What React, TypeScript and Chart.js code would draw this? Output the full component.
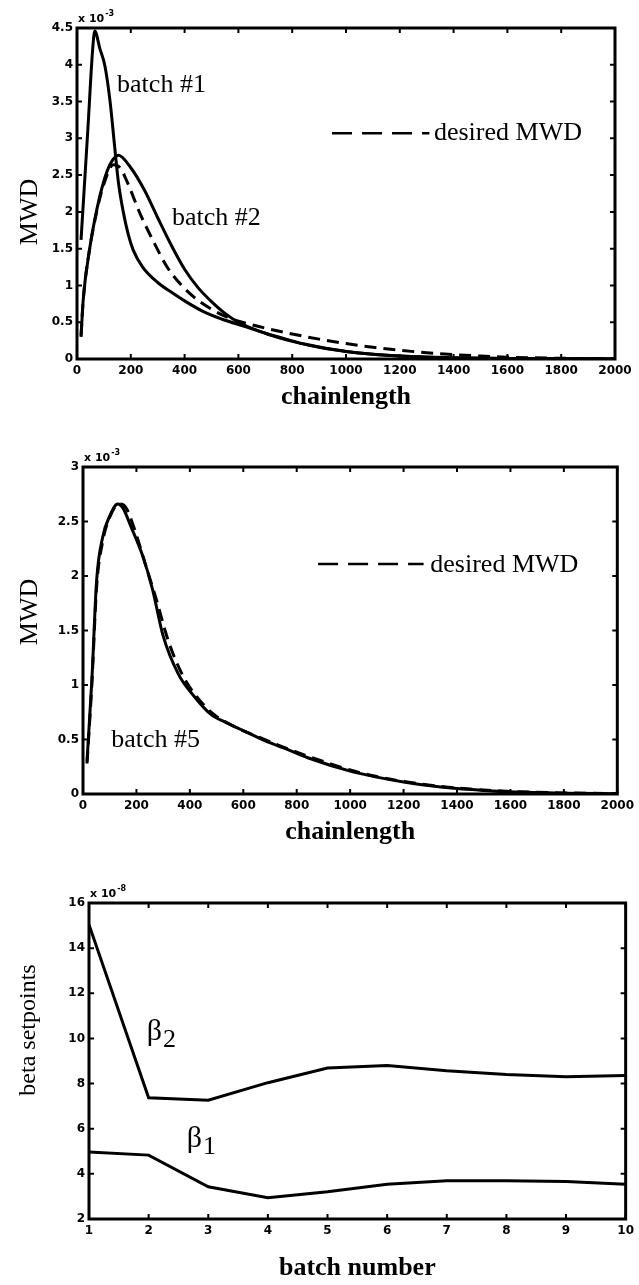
import React, { useEffect, useRef } from 'react';
import { Chart, registerables } from 'chart.js';

Chart.register(...registerables);

// ---------- tick values ----------
const chainTicks = [0, 200, 400, 600, 800, 1000, 1200, 1400, 1600, 1800, 2000];
const mwd1Ticks = [0, 0.5, 1, 1.5, 2, 2.5, 3, 3.5, 4, 4.5];
const mwd2Ticks = [0, 0.5, 1, 1.5, 2, 2.5, 3];
const batchTicks = [1, 2, 3, 4, 5, 6, 7, 8, 9, 10];
const betaTicks = [2, 4, 6, 8, 10, 12, 14, 16];

// ---------- chart 1 (x 10^-3) ----------
const batch1X = [15, 40, 58, 66, 85, 104, 123, 141, 154, 172, 190, 209, 244, 300, 350, 400, 472, 540, 625, 700, 777, 850, 1007, 1100, 1200, 1300, 1400, 1600, 1800, 2000];
const batch1Y = [1.62, 3.1, 4.2, 4.46, 4.22, 3.98, 3.5, 2.85, 2.4, 2.0, 1.7, 1.48, 1.25, 1.04, 0.91, 0.79, 0.64, 0.54, 0.44, 0.35, 0.27, 0.2, 0.1, 0.065, 0.04, 0.025, 0.015, 0.006, 0.003, 0.001];
const batch2X = [15, 23, 45, 73, 100, 125, 154, 200, 250, 300, 350, 400, 450, 500, 550, 600, 700, 800, 900, 1007, 1100, 1200, 1300, 1400, 1600, 1800, 2000];
const batch2Y = [0.3, 0.8, 1.45, 2.02, 2.42, 2.66, 2.77, 2.6, 2.3, 1.92, 1.55, 1.22, 0.97, 0.78, 0.62, 0.5, 0.35, 0.24, 0.16, 0.1, 0.065, 0.042, 0.027, 0.017, 0.007, 0.003, 0.001];
const desired1X = [15, 23, 45, 73, 100, 135, 160, 184, 234, 284, 335, 389, 442, 503, 564, 625, 700, 800, 900, 1000, 1100, 1200, 1300, 1400, 1500, 1600, 1800, 2000];
const desired1Y = [0.32, 0.8, 1.45, 2.0, 2.38, 2.64, 2.6, 2.43, 1.98, 1.6, 1.25, 1.0, 0.82, 0.67, 0.56, 0.49, 0.42, 0.34, 0.27, 0.21, 0.16, 0.12, 0.085, 0.06, 0.04, 0.025, 0.01, 0.004];

// ---------- chart 2 (x 10^-3) ----------
const batch5X = [15, 33, 51, 74, 100, 130, 150, 180, 224, 260, 300, 357, 418, 479, 540, 601, 680, 753, 844, 1000, 1100, 1200, 1300, 1400, 1500, 1600, 1800, 2000];
const batch5Y = [0.3, 1.04, 1.96, 2.36, 2.55, 2.66, 2.62, 2.45, 2.18, 1.88, 1.45, 1.1, 0.89, 0.73, 0.65, 0.58, 0.49, 0.42, 0.33, 0.21, 0.155, 0.11, 0.075, 0.05, 0.033, 0.02, 0.008, 0.003];
const desired2X = [15, 33, 51, 74, 100, 135, 160, 190, 237, 275, 320, 375, 430, 490, 550, 610, 690, 760, 850, 1000, 1100, 1200, 1300, 1400, 1500, 1600, 1800, 2000];
const desired2Y = [0.28, 1.0, 1.9, 2.32, 2.54, 2.66, 2.63, 2.45, 2.08, 1.78, 1.4, 1.08, 0.88, 0.73, 0.64, 0.57, 0.49, 0.42, 0.34, 0.22, 0.16, 0.115, 0.08, 0.055, 0.037, 0.024, 0.01, 0.004];

// ---------- chart 3 ----------
const batchNumbers = [1, 2, 3, 4, 5, 6, 7, 8, 9, 10];
const beta2 = [15.04, 7.37, 7.26, 8.04, 8.69, 8.8, 8.57, 8.4, 8.3, 8.36];
const beta1 = [4.97, 4.83, 3.43, 2.94, 3.21, 3.54, 3.69, 3.69, 3.66, 3.54];

const SERIF = "'Liberation Serif', 'Times New Roman', serif";
const SANS = "'DejaVu Sans', sans-serif";
const W = 639;

const toPts = (xs: number[], ys: number[]) => xs.map((x, i) => ({ x, y: ys[i] }));

type Note = { text: string; sub?: string; x: number; y: number; size?: number };
type Spec = {
  key: string;
  top: number;
  height: number;
  area: { left: number; top: number; right: number; bottom: number };
  xMin: number; xMax: number; yMin: number; yMax: number;
  xTicks: number[]; yTicks: number[];
  xTitle: string; xTitlePad: number;
  yTitle: string; yTitleX: number; yTitleY: number; yTitleSize: number;
  exp: string;
  smooth: boolean;
  series: { x: number[]; y: number[]; dash?: number[] }[];
  notes: Note[];
  legend?: { x1: number; x2: number; y: number; tx: number; ty: number; text: string };
};

function makeFrame(p: Spec) {
  return {
    id: 'frame_' + p.key,
    afterDraw(chart: any) {
      const { ctx, chartArea: a, scales } = chart;
      const xs = scales.x, ys = scales.y;
      ctx.save();
      ctx.strokeStyle = '#000';
      ctx.fillStyle = '#000';
      ctx.setLineDash([]);
      ctx.lineWidth = 2;
      ctx.beginPath();
      p.xTicks.forEach((v) => {
        const px = xs.getPixelForValue(v);
        ctx.moveTo(px, a.bottom); ctx.lineTo(px, a.bottom - 5);
        ctx.moveTo(px, a.top); ctx.lineTo(px, a.top + 5);
      });
      p.yTicks.forEach((v) => {
        const py = ys.getPixelForValue(v);
        ctx.moveTo(a.left, py); ctx.lineTo(a.left + 5, py);
        ctx.moveTo(a.right, py); ctx.lineTo(a.right - 5, py);
      });
      ctx.stroke();
      ctx.lineWidth = 3;
      ctx.strokeRect(a.left, a.top, a.right - a.left, a.bottom - a.top);

      // exponent
      ctx.textAlign = 'left';
      ctx.textBaseline = 'alphabetic';
      ctx.font = `bold 11px ${SANS}`;
      ctx.fillText('x 10', a.left + 1, a.top - 6);
      const ew = ctx.measureText('x 10').width;
      ctx.font = `bold 8px ${SANS}`;
      ctx.fillText(p.exp, a.left + 2 + ew, a.top - 12);

      // y title
      ctx.save();
      ctx.translate(p.yTitleX, p.yTitleY);
      ctx.rotate(-Math.PI / 2);
      ctx.textAlign = 'center';
      ctx.textBaseline = 'middle';
      ctx.font = `${p.yTitleSize}px ${SERIF}`;
      ctx.fillText(p.yTitle, 0, 0);
      ctx.restore();

      // notes
      p.notes.forEach((n) => {
        const px = xs.getPixelForValue(n.x);
        const py = ys.getPixelForValue(n.y);
        const size = n.size || 26;
        ctx.font = `${size}px ${SERIF}`;
        ctx.fillText(n.text, px, py);
        if (n.sub) {
          const w = ctx.measureText(n.text).width;
          ctx.font = `${Math.round(size * 0.85)}px ${SERIF}`;
          ctx.fillText(n.sub, px + w + 1, py + 7);
        }
      });

      // legend
      if (p.legend) {
        const L = p.legend;
        const y = ys.getPixelForValue(L.y);
        ctx.lineWidth = 2.5;
        ctx.setLineDash([20, 10]);
        ctx.beginPath();
        ctx.moveTo(xs.getPixelForValue(L.x1), y);
        ctx.lineTo(xs.getPixelForValue(L.x2), y);
        ctx.stroke();
        ctx.setLineDash([]);
        ctx.font = `26px ${SERIF}`;
        ctx.fillText(L.text, xs.getPixelForValue(L.tx), ys.getPixelForValue(L.ty));
      }
      ctx.restore();
    },
  };
}

function buildConfig(p: Spec): any {
  const tickFont = { family: SANS, size: 12, weight: 'bold' as const };
  return {
    type: 'line',
    data: {
      datasets: p.series.map((s) => ({
        data: toPts(s.x, s.y),
        borderColor: '#000',
        borderWidth: 3,
        borderDash: s.dash || [],
        pointRadius: 0,
        fill: false,
        tension: p.smooth ? 0.4 : 0,
        cubicInterpolationMode: p.smooth ? 'monotone' : 'default',
      })),
    },
    options: {
      animation: false,
      responsive: false,
      maintainAspectRatio: false,
      layout: { padding: { top: p.area.top, right: W - p.area.right, left: 0, bottom: 0 } },
      plugins: { legend: { display: false }, tooltip: { enabled: false } },
      scales: {
        x: {
          type: 'linear',
          position: 'bottom',
          min: p.xMin,
          max: p.xMax,
          afterBuildTicks: (ax: any) => { ax.ticks = p.xTicks.map((v) => ({ value: v })); },
          afterFit: (s: any) => { s.height = p.height - p.area.bottom; },
          grid: { display: false, drawTicks: false },
          border: { display: false },
          ticks: { color: '#000', font: tickFont, padding: 5, maxRotation: 0, autoSkip: false, callback: (v: any) => String(v) },
          title: {
            display: true,
            text: p.xTitle,
            color: '#000',
            font: { family: SERIF, size: 26, weight: 'bold', lineHeight: 1.2 },
            padding: { top: 0, bottom: p.xTitlePad },
          },
        },
        y: {
          type: 'linear',
          position: 'left',
          min: p.yMin,
          max: p.yMax,
          afterBuildTicks: (ax: any) => { ax.ticks = p.yTicks.map((v) => ({ value: v })); },
          afterFit: (s: any) => { s.width = p.area.left; },
          grid: { display: false, drawTicks: false },
          border: { display: false },
          ticks: { color: '#000', font: tickFont, padding: 4, autoSkip: false, callback: (v: any) => String(v) },
          title: { display: false },
        },
      },
    },
    plugins: [makeFrame(p)],
  };
}

const specs: Spec[] = [
  {
    key: 'c1', top: 0, height: 420,
    area: { left: 77, top: 28, right: 615, bottom: 359 },
    xMin: 0, xMax: 2000, yMin: 0, yMax: 4.5,
    xTicks: chainTicks, yTicks: mwd1Ticks,
    xTitle: 'chainlength', xTitlePad: 7,
    yTitle: 'MWD', yTitleX: 30, yTitleY: 212, yTitleSize: 26,
    exp: '-3', smooth: true,
    series: [
      { x: batch1X, y: batch1Y },
      { x: batch2X, y: batch2Y },
      { x: desired1X, y: desired1Y, dash: [12, 7] },
    ],
    notes: [
      { text: 'batch #1', x: 149, y: 3.63 },
      { text: 'batch #2', x: 353, y: 1.82 },
    ],
    legend: { x1: 948, x2: 1310, y: 3.07, tx: 1327, ty: 2.98, text: 'desired MWD' },
  },
  {
    key: 'c2', top: 420, height: 430,
    area: { left: 83, top: 47, right: 621, bottom: 374 },
    xMin: 0, xMax: 2000, yMin: 0, yMax: 3,
    xTicks: chainTicks, yTicks: mwd2Ticks,
    xTitle: 'chainlength', xTitlePad: 2,
    yTitle: 'MWD', yTitleX: 30, yTitleY: 192, yTitleSize: 26,
    exp: '-3', smooth: true,
    series: [
      { x: batch5X, y: batch5Y },
      { x: desired2X, y: desired2Y, dash: [12, 7] },
    ],
    notes: [{ text: 'batch #5', x: 106, y: 0.43 }],
    legend: { x1: 880, x2: 1275, y: 2.11, tx: 1300, ty: 2.04, text: 'desired MWD' },
  },
  {
    key: 'c3', top: 850, height: 435,
    area: { left: 89, top: 53, right: 627, bottom: 369 },
    xMin: 1, xMax: 10, yMin: 2, yMax: 16,
    xTicks: batchTicks, yTicks: betaTicks,
    xTitle: 'batch number', xTitlePad: 1,
    yTitle: 'beta setpoints', yTitleX: 29, yTitleY: 180, yTitleSize: 24,
    exp: '-8', smooth: false,
    series: [
      { x: batchNumbers, y: beta2 },
      { x: batchNumbers, y: beta1 },
    ],
    notes: [
      { text: 'β', sub: '2', x: 1.97, y: 9.95, size: 30 },
      { text: 'β', sub: '1', x: 2.64, y: 5.2, size: 30 },
    ],
  },
];

function ChartCanvas({ spec }: { spec: Spec }) {
  const ref = useRef<HTMLCanvasElement | null>(null);
  useEffect(() => {
    if (!ref.current) return;
    const chart = new Chart(ref.current, buildConfig(spec));
    return () => chart.destroy();
  }, [spec]);
  return (
    <canvas
      ref={ref}
      width={W}
      height={spec.height}
      style={{ position: 'absolute', left: 0, top: spec.top, width: W, height: spec.height, display: 'block' }}
    />
  );
}

export default function App() {
  return (
    <div style={{ position: 'absolute', left: 0, top: 0, width: W, height: 1285, background: '#fff' }}>
      {specs.map((s) => (
        <ChartCanvas key={s.key} spec={s} />
      ))}
    </div>
  );
}
